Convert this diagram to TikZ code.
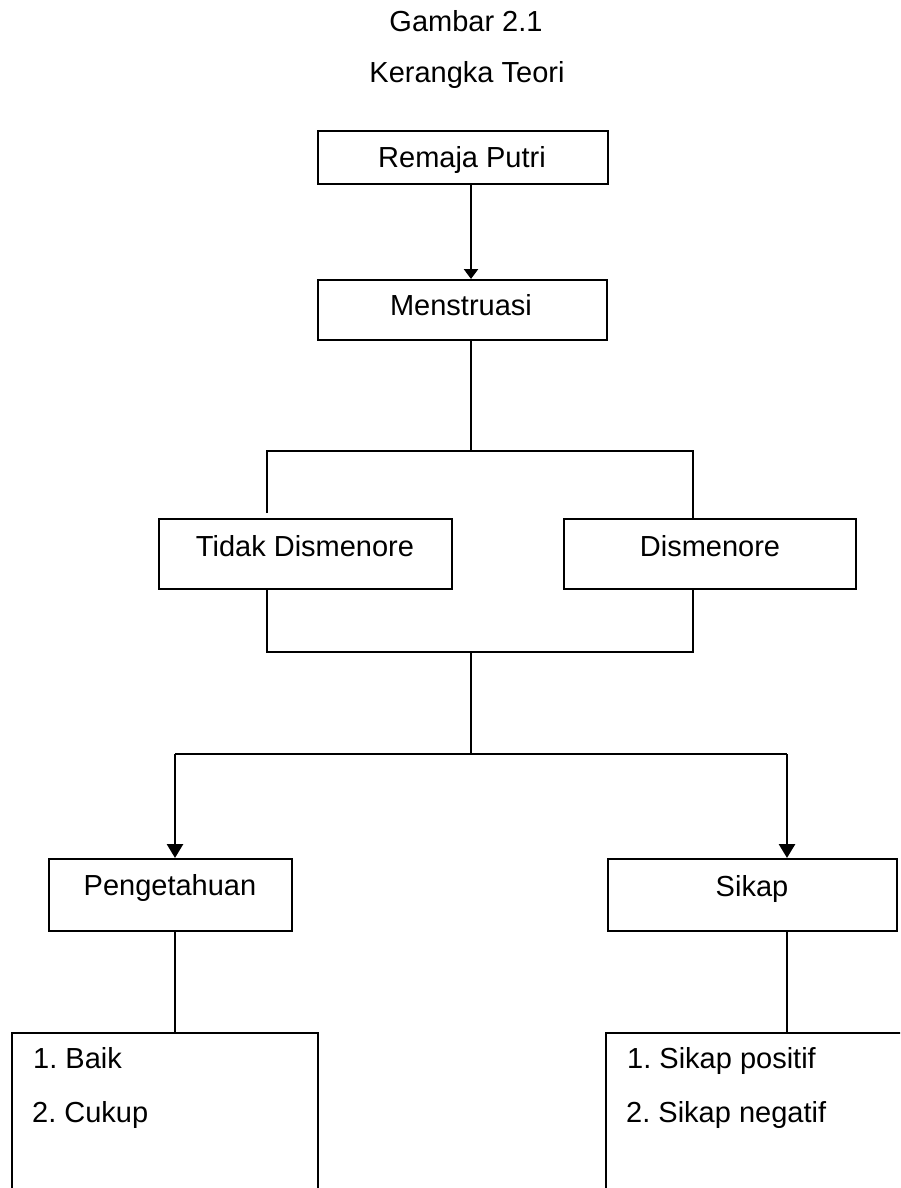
\documentclass[tikz,border=0pt]{standalone}
\usepackage{fontspec}
\setmainfont{Liberation Sans}
\usetikzlibrary{arrows.meta}
\begin{document}
\frenchspacing
\begin{tikzpicture}[x=1pt,y=-1pt,
  box/.style={draw, line width=2pt, inner sep=0pt, anchor=north west},
  ln/.style={line width=2pt},
  arr/.style={line width=2.8pt, -{Triangle[width=16pt,length=14pt]}},
  arrs/.style={line width=2.8pt, -{Triangle[width=14pt,length=10pt]}},
  txt/.style={font=\fontsize{29}{35}\selectfont, inner sep=0pt, anchor=base},
  ltxt/.style={font=\fontsize{29}{35}\selectfont, inner sep=0pt, anchor=base west}]
\useasboundingbox[fill=white] (0,0) rectangle (900,1188);
\clip (0,0) rectangle (900,1188);

% titles
\node[txt] (title1) at (466,32) {Gambar 2.1};
\node[txt] (title2) at (467,83) {Kerangka Teori};

% boxes
\node[box, minimum width=290pt, minimum height=53pt] (remaja) at (317,130) {};
\node[txt] (tremaja) at (462,167) {Remaja Putri};
\node[box, minimum width=289pt, minimum height=60pt] (mens) at (317,279) {};
\node[txt] (tmens) at (461,315) {Menstruasi};
\node[box, minimum width=293pt, minimum height=70pt] (tidak) at (158,518) {};
\node[txt] (ttidak) at (305,556) {Tidak Dismenore};
\node[box, minimum width=292pt, minimum height=70pt] (dis) at (563,518) {};
\node[txt] (tdis) at (710,556) {Dismenore};
\node[box, minimum width=243pt, minimum height=72pt] (peng) at (48,858) {};
\node[txt] (tpeng) at (170,895) {Pengetahuan};
\node[box, minimum width=289pt, minimum height=72pt] (sikap) at (607,858) {};
\node[txt] (tsikap) at (752,896) {Sikap};
\node[box, minimum width=306pt, minimum height=240pt] (list1) at (11,1032) {};
\node[ltxt] (l1a) at (33,1068) {1. Baik};
\node[ltxt] (l1b) at (32,1122) {2. Cukup};
\node[box, minimum width=400pt, minimum height=240pt] (list2) at (605,1032) {};
\node[ltxt] (l2a) at (627,1068) {1. Sikap positif};
\node[ltxt] (l2b) at (626,1122) {2. Sikap negatif};

% helper coordinates
\coordinate (cx) at (471,0);
\coordinate (lx) at (267,0);
\coordinate (rx) at (693,0);
\coordinate (px) at (175,0);
\coordinate (sx) at (787,0);
\coordinate (a1) at (267,513);
\coordinate (h1) at (471,451);
\coordinate (h2) at (471,652);
\coordinate (h3) at (471,754);

% connectors
\draw[arrs] (remaja.south -| cx) -- (mens.north -| cx);
\draw[ln] (mens.south -| cx) -- (h1);
\draw[ln] (a1) -- (a1 |- h1) -- (rx |- h1) -- (dis.north -| rx);
\draw[ln] (tidak.south -| lx) -- (lx |- h2) -- (rx |- h2) -- (dis.south -| rx);
\draw[ln] (h2) -- (h3);
\draw[ln] (px |- h3) -- (sx |- h3);
\draw[arr] (px |- h3) -- (peng.north -| px);
\draw[arr] (sx |- h3) -- (sikap.north -| sx);
\draw[ln] (peng.south -| px) -- (list1.north -| px);
\draw[ln] (sikap.south -| sx) -- (list2.north -| sx);
\end{tikzpicture}
\end{document}
